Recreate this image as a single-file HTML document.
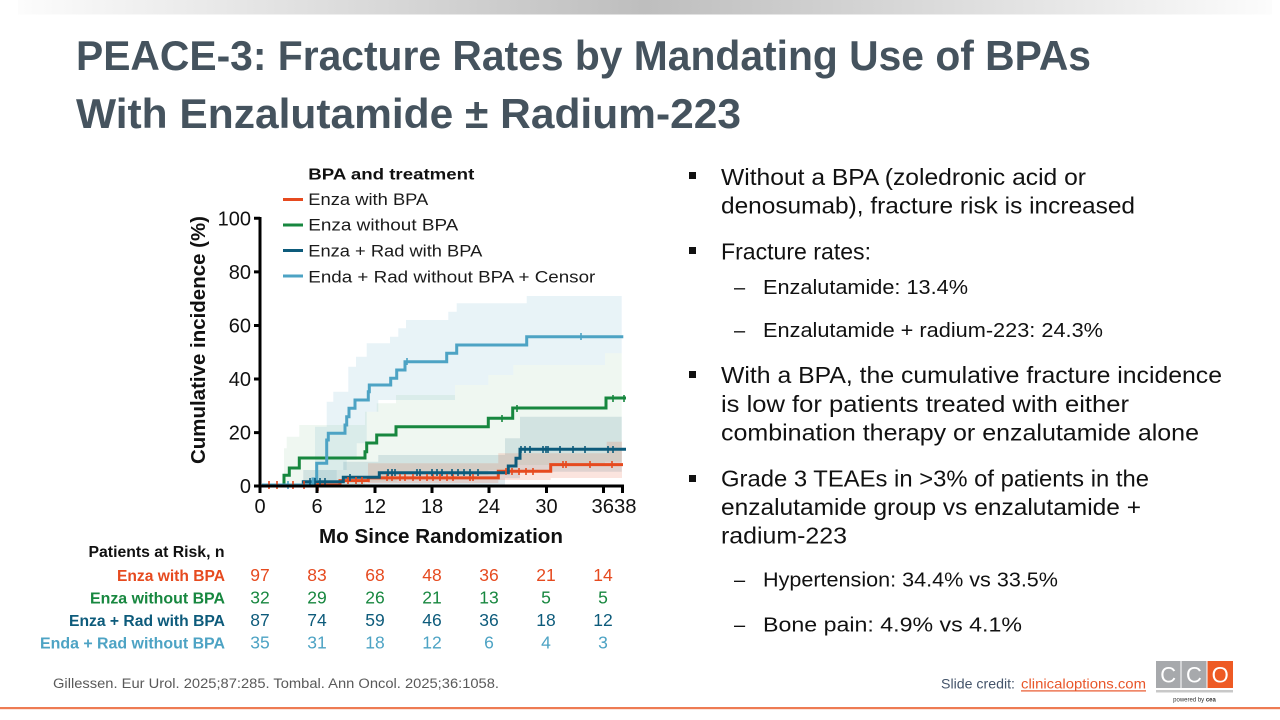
<!DOCTYPE html>
<html>
<head>
<meta charset="utf-8">
<style>
  html,body{margin:0;padding:0;background:#fff;}
  svg{display:block;}
  text{font-family:"Liberation Sans", sans-serif;}
</style>
</head>
<body>
<svg width="1280" height="720" viewBox="0 0 1280 720" xmlns="http://www.w3.org/2000/svg">
  <defs>
    <linearGradient id="topg" x1="0" y1="0" x2="1" y2="0">
      <stop offset="0" stop-color="#fcfcfc"/>
      <stop offset="0.5" stop-color="#bebebe"/>
      <stop offset="1" stop-color="#fcfcfc"/>
    </linearGradient>
  </defs>
  <rect x="0" y="0" width="1280" height="720" fill="#ffffff"/>
  <!-- top gradient bar -->
  <rect x="18" y="0" width="1254" height="14.5" fill="url(#topg)"/>

  <!-- Title -->
  <text x="76" y="70" font-size="42" font-weight="bold" fill="#45535e" textLength="1015" lengthAdjust="spacingAndGlyphs">PEACE-3: Fracture Rates by Mandating Use of BPAs</text>
  <text x="76" y="128" font-size="42" font-weight="bold" fill="#45535e" textLength="665" lengthAdjust="spacingAndGlyphs">With Enzalutamide ± Radium-223</text>

  <!-- ===== Chart ===== -->
  <!-- CI bands -->
  <path d="M284,485 V448.3 H286.7 V436.7 H299.3 V425 H365 V411.7 H376.7 V403.3 H396 V395 H455 V385 H488.3 V375 H513.3 V365 H605 V353.3 H621.7 V461.7 H605 V465 H513.3 V470 H488.3 V475 H396.7 V481.7 H365 V485 Z" fill="#17873f" fill-opacity="0.07"/>
  <path d="M315,485 V426.7 H326.7 V401.7 H333.3 V391.7 H348.3 V366.7 H356 V356.7 H366.7 V343.3 H390 V336.7 H398.3 V328.3 H406 V320 H448.3 V311.7 H456.7 V303.3 H526.7 V296 H621.7 V353.3 H605 V365 H513.3 V375 H488.3 V385 H455 V400 H378.3 V411.7 H366.7 V443.3 H356.7 V460 H346.7 V470 H336.7 V480 H326.7 V485 Z" fill="#4da3c4" fill-opacity="0.13"/>
  <path d="M303.3,485 V470 H343.3 V461.7 H378.3 V455 H505 V438.3 H520 V416.7 H621.7 V471.7 H520 V478.3 H505 V485 Z" fill="#0d5b7b" fill-opacity="0.13"/>
  <path d="M368,483 V463.3 H498.3 V453.3 H606.7 V441.7 H622 V478 H550.7 V480 H498.3 V483 Z" fill="#e64a1f" fill-opacity="0.15"/>

  <!-- series lines -->
  <g fill="none" stroke-width="3" stroke-linejoin="miter">
    <path d="M262,485 H340 V480.6 H368.3 V477.9 H498.3 V471.3 H550.7 V464.6 H623" stroke="#e64a1f"/>
    <path d="M262,485 H303.3 V481.7 H343.3 V477.3 H379.3 V472.7 H508.3 V466 H516 V458.3 H520 V449.3 H626" stroke="#0d5b7b"/>
    <path d="M262,485 H284 V475.3 H289.3 V468 H299.3 V458 H365 V451.7 H366.7 V443 H376.7 V435 H396 V426.7 H488.3 V418.3 H512.7 V408 H606 V398 H626" stroke="#17873f"/>
    <path d="M262,485 H313 V479 H316.7 V463.3 H326.7 V440 H328.3 V433.3 H345 V425 H346.7 V416.7 H349 V408.3 H355 V400 H368.3 V391.7 H369.3 V385 H390.7 V378.3 H396.7 V370 H405 V361.7 H446.7 V353.3 H456.7 V345 H526.7 V336.7 H623.3" stroke="#4da3c4"/>
  </g>

  <!-- censor marks -->
  <g stroke-width="1.6" fill="none">
    <path stroke="#e64a1f" d="M269,481v8 M277,481v8 M293,481v8 M304,481v8 M318,483v8 M348,477v7 M356,477v7 M362,477v7 M387,474v7 M392,474v7 M400,474v7 M405,474v7 M413,474v7 M420,474v7 M427,474v7 M433,474v7 M440,474v7 M447,474v7 M453,474v7 M470,474v7 M473,474v7 M506,468v7 M512,468v7 M519,468v7 M526,468v7 M533,468v7 M563,461v7 M566,461v7 M590,461v7 M612,461v7"/>
    <path stroke="#0d5b7b" d="M310,478v7 M315,478v7 M320,478v7 M325,478v7 M350,474v7 M388,469v7 M392,469v7 M395,469v7 M417,469v7 M420,469v7 M432,469v7 M437,469v7 M442,469v7 M452,469v7 M458,469v7 M464,469v7 M470,469v7 M478,469v7 M521,446v7 M525,446v7 M530,446v7 M543,446v7 M546,446v7 M548,446v7 M560,446v7 M573,446v7 M585,446v7 M608,446v7 M613,446v7"/>
    <path stroke="#17873f" d="M502,415v7 M517,405v7 M613,395v7 M624,395v7"/>
    <path stroke="#4da3c4" d="M407,358v7 M581,333v7 M288,481v8"/>
  </g>

  <!-- axes -->
  <g stroke="#000" stroke-width="3" fill="none">
    <path d="M260,217 V487.5"/>
    <path d="M258.5,486 H624"/>
    <path d="M254,218.3 H260 M254,271.9 H260 M254,325.5 H260 M254,379 H260 M254,432.6 H260 M254,486 H260"/>
    <path d="M260,486 V493 M317,486 V493 M375,486 V493 M432,486 V493 M489,486 V493 M546.5,486 V493 M603.5,486 V493 M622.5,486 V493"/>
  </g>
  <!-- y tick labels -->
  <g font-size="20" fill="#111" text-anchor="end">
    <text x="251" y="225.5">100</text>
    <text x="251" y="279">80</text>
    <text x="251" y="332.5">60</text>
    <text x="251" y="386">40</text>
    <text x="251" y="439.6">20</text>
    <text x="251" y="493">0</text>
  </g>
  <!-- x tick labels -->
  <g font-size="20" fill="#111" text-anchor="middle">
    <text x="260" y="513">0</text>
    <text x="317" y="513">6</text>
    <text x="375" y="513">12</text>
    <text x="432" y="513">18</text>
    <text x="489" y="513">24</text>
    <text x="546.5" y="513">30</text>
    <text x="614" y="513" textLength="45" lengthAdjust="spacingAndGlyphs">3638</text>
  </g>
  <!-- axis titles -->
  <text x="441" y="543" font-size="20" font-weight="bold" fill="#111" text-anchor="middle" textLength="244" lengthAdjust="spacingAndGlyphs">Mo Since Randomization</text>
  <text transform="translate(205,340) rotate(-90)" x="0" y="0" font-size="20" font-weight="bold" fill="#111" text-anchor="middle" textLength="248" lengthAdjust="spacingAndGlyphs">Cumulative incidence (%)</text>

  <!-- legend -->
  <text x="308.3" y="179.3" font-size="16" font-weight="bold" fill="#111" textLength="166" lengthAdjust="spacingAndGlyphs">BPA and treatment</text>
  <g stroke-width="3">
    <line x1="283" y1="199.5" x2="303" y2="199.5" stroke="#e64a1f"/>
    <line x1="283" y1="225" x2="303" y2="225" stroke="#17873f"/>
    <line x1="283" y1="250.5" x2="303" y2="250.5" stroke="#0d5b7b"/>
    <line x1="283" y1="276" x2="303" y2="276" stroke="#4da3c4"/>
  </g>
  <g font-size="17" fill="#1a1a1a">
    <text x="308.3" y="205" textLength="120" lengthAdjust="spacingAndGlyphs">Enza with BPA</text>
    <text x="308.3" y="230.7" textLength="150" lengthAdjust="spacingAndGlyphs">Enza without BPA</text>
    <text x="308.3" y="256.5" textLength="174" lengthAdjust="spacingAndGlyphs">Enza + Rad with BPA</text>
    <text x="308.3" y="282.3" textLength="287" lengthAdjust="spacingAndGlyphs">Enda + Rad without BPA + Censor</text>
  </g>

  <!-- risk table -->
  <g font-weight="bold" font-size="16" text-anchor="end">
    <text x="224.5" y="557" fill="#111" textLength="136" lengthAdjust="spacingAndGlyphs">Patients at Risk, n</text>
    <text x="225" y="581" fill="#e64a1f" textLength="108" lengthAdjust="spacingAndGlyphs">Enza with BPA</text>
    <text x="225" y="603.5" fill="#17873f" textLength="135" lengthAdjust="spacingAndGlyphs">Enza without BPA</text>
    <text x="225" y="626" fill="#0d5b7b" textLength="156" lengthAdjust="spacingAndGlyphs">Enza + Rad with BPA</text>
    <text x="225" y="648.5" fill="#4da3c4" textLength="185" lengthAdjust="spacingAndGlyphs">Enda + Rad without BPA</text>
  </g>
  <g font-size="17.5" text-anchor="middle">
    <g fill="#e64a1f">
      <text x="260" y="581">97</text><text x="317" y="581">83</text><text x="375" y="581">68</text><text x="432" y="581">48</text><text x="489" y="581">36</text><text x="546" y="581">21</text><text x="603" y="581">14</text>
    </g>
    <g fill="#17873f">
      <text x="260" y="603.5">32</text><text x="317" y="603.5">29</text><text x="375" y="603.5">26</text><text x="432" y="603.5">21</text><text x="489" y="603.5">13</text><text x="546" y="603.5">5</text><text x="603" y="603.5">5</text>
    </g>
    <g fill="#0d5b7b">
      <text x="260" y="626">87</text><text x="317" y="626">74</text><text x="375" y="626">59</text><text x="432" y="626">46</text><text x="489" y="626">36</text><text x="546" y="626">18</text><text x="603" y="626">12</text>
    </g>
    <g fill="#4da3c4">
      <text x="260" y="648.5">35</text><text x="317" y="648.5">31</text><text x="375" y="648.5">18</text><text x="432" y="648.5">12</text><text x="489" y="648.5">6</text><text x="546" y="648.5">4</text><text x="603" y="648.5">3</text>
    </g>
  </g>

  <!-- ===== Right bullets ===== -->
  <g fill="#111">
    <rect x="689" y="172" width="7" height="7"/>
    <rect x="689" y="247" width="7" height="7"/>
    <rect x="689" y="371" width="7" height="7"/>
    <rect x="689" y="475" width="7" height="7"/>
  </g>
  <g font-size="23" fill="#111">
    <text x="721" y="185" textLength="365" lengthAdjust="spacingAndGlyphs">Without a BPA (zoledronic acid or</text>
    <text x="721" y="213.5" textLength="414" lengthAdjust="spacingAndGlyphs">denosumab), fracture risk is increased</text>
    <text x="721" y="259.5" textLength="150" lengthAdjust="spacingAndGlyphs">Fracture rates:</text>
    <text x="721" y="383" textLength="501" lengthAdjust="spacingAndGlyphs">With a BPA, the cumulative fracture incidence</text>
    <text x="721" y="412" textLength="408" lengthAdjust="spacingAndGlyphs">is low for patients treated with either</text>
    <text x="721" y="440.5" textLength="478" lengthAdjust="spacingAndGlyphs">combination therapy or enzalutamide alone</text>
    <text x="721" y="486.5" textLength="428" lengthAdjust="spacingAndGlyphs">Grade 3 TEAEs in &gt;3% of patients in the</text>
    <text x="721" y="515" textLength="420" lengthAdjust="spacingAndGlyphs">enzalutamide group vs enzalutamide +</text>
    <text x="721" y="543.5" textLength="126" lengthAdjust="spacingAndGlyphs">radium-223</text>
  </g>
  <g font-size="20" fill="#111">
    <text x="734" y="294">–</text>
    <text x="763" y="294" textLength="205" lengthAdjust="spacingAndGlyphs">Enzalutamide: 13.4%</text>
    <text x="734" y="337">–</text>
    <text x="763" y="337" textLength="340" lengthAdjust="spacingAndGlyphs">Enzalutamide + radium-223: 24.3%</text>
    <text x="734" y="586.5">–</text>
    <text x="763" y="586.5" textLength="295" lengthAdjust="spacingAndGlyphs">Hypertension: 34.4% vs 33.5%</text>
    <text x="734" y="631.5">–</text>
    <text x="763" y="631.5" textLength="259" lengthAdjust="spacingAndGlyphs">Bone pain: 4.9% vs 4.1%</text>
  </g>

  <!-- footer -->
  <text x="53" y="688" font-size="13.5" fill="#595959" textLength="446" lengthAdjust="spacingAndGlyphs">Gillessen. Eur Urol. 2025;87:285. Tombal. Ann Oncol. 2025;36:1058.</text>
  <text x="941" y="688.3" font-size="14" fill="#44546a" textLength="74" lengthAdjust="spacingAndGlyphs">Slide credit:</text>
  <text x="1021" y="688.3" font-size="14" fill="#e8562a" textLength="125" lengthAdjust="spacingAndGlyphs">clinicaloptions.com</text>
  <rect x="1021" y="690.3" width="125" height="1.2" fill="#e8562a"/>

  <!-- CCO logo -->
  <rect x="1156" y="661" width="24.5" height="27" fill="#a7a9ac"/>
  <rect x="1181.5" y="661" width="25" height="27" fill="#a7a9ac"/>
  <rect x="1207.5" y="661" width="25.5" height="27" fill="#ee5a24"/>
  <g font-size="22" fill="#ffffff" text-anchor="middle">
    <text x="1168.2" y="682.5">C</text>
    <text x="1194" y="682.5">C</text>
    <text x="1220.2" y="682.5">O</text>
  </g>
  <rect x="1156" y="690" width="77" height="2.5" fill="#c8c8c8"/>
  <text x="1194.5" y="701.5" font-size="6" fill="#333" text-anchor="middle">powered by <tspan font-weight="bold">cea</tspan></text>

  <!-- bottom orange line -->
  <rect x="0" y="707" width="1280" height="2.2" fill="#ee7b53"/>
</svg>
</body>
</html>
